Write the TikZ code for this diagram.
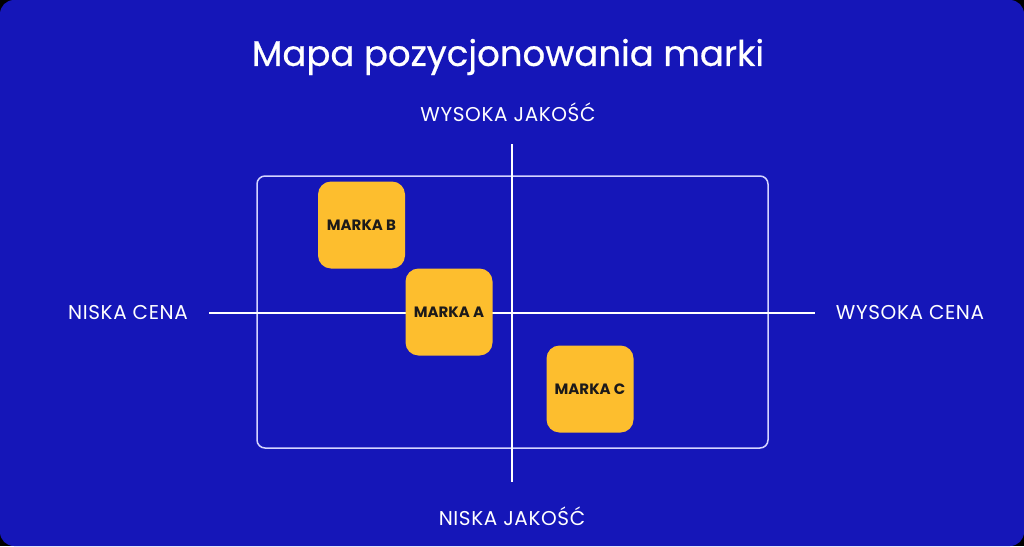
\documentclass[tikz,border=0pt]{standalone}
\usepackage{fontspec}
\setmainfont{Poppins}
\newfontfamily\labelfont[LetterSpace=3]{Poppins}
\newfontfamily\titlefont[FakeBold=0.6]{Poppins}
\definecolor{bgblue}{HTML}{1516B8}
\definecolor{brandyellow}{HTML}{FDBE2E}
\definecolor{boxtext}{HTML}{1C1A1A}
\definecolor{framecol}{HTML}{D4D4FF}
\begin{document}
\begin{tikzpicture}[x=1pt,y=-1pt,
  axislabel/.style={text=white,font=\labelfont\fontsize{20}{24}\selectfont,inner sep=0pt,anchor=center},
  brandbox/.style={fill=brandyellow,rounded corners=13pt,minimum width=87pt,minimum height=87pt,inner sep=0pt,
    text=boxtext,font=\fontsize{15}{18}\selectfont\bfseries},
  axisline/.style={draw=white,line width=1.5pt},
  framebox/.style={draw=framecol,line width=1.5pt,rounded corners=8pt}]
\fill[black] (0,0) rectangle (1024,546);
\useasboundingbox (0,0) rectangle (1024,546);
\fill[bgblue,rounded corners=14pt] (0,0) rectangle (1024,546);
% title
\node[text=white,font=\titlefont\fontsize{35.5}{42}\selectfont,inner sep=0pt] (title) at (508,57) {Mapa pozycjonowania marki};
% axis labels
\node[axislabel] (hq) at (508,112) {WYSOKA JAKOŚĆ};
\node[axislabel] (lq) at (512,516) {NISKA JAKOŚĆ};
\node[axislabel] (lp) at (128,313) {NISKA CENA};
\node[axislabel] (hp) at (910,313) {WYSOKA CENA};
% frame
\draw[framebox] (257,176) rectangle (768,448);
% axes
\coordinate (vtop) at (512,144);
\coordinate (vbot) at (512,482);
\coordinate (hleft) at (209,313);
\coordinate (hright) at (815,313);
\draw[axisline] (vtop) -- (vbot);
\draw[axisline] (hleft) -- (hright);
% brands
\node[brandbox] (b) at (361.5,225) {MARKA B};
\node[brandbox] (a) at (449,312) {MARKA A};
\node[brandbox] (c) at (590,389) {MARKA C};
\end{tikzpicture}
\end{document}
